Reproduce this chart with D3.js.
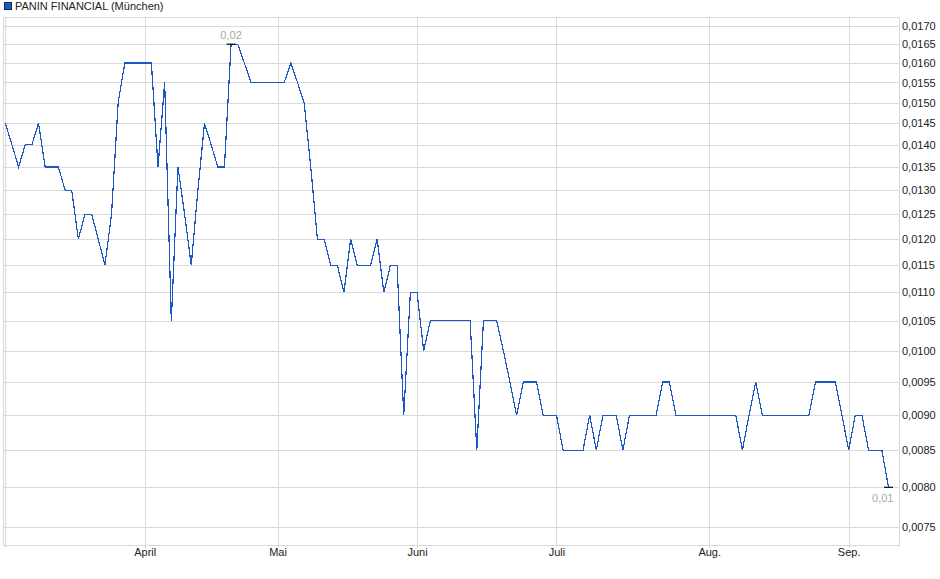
<!DOCTYPE html>
<html>
<head>
<meta charset="utf-8">
<script src="https://cdn.jsdelivr.net/npm/d3@7"></script>
<style>
    body { margin: 0; background: #fff; }
    text { font-family: "Liberation Sans", Arial, sans-serif; font-size: 11px; fill: #222; }
</style>
</head>
<body>
<div id="chart"></div>
<script>
var series_name = 'PANIN FINANCIAL (München)';

// Closing prices, one per trading day
var prices = [
    0.0145, 0.0140, 0.0135, 0.0140, 0.0140, 0.0145, 0.0135, 0.0135, 0.0135, 0.0130,
    0.0130, 0.0120, 0.0125, 0.0125, 0.0120, 0.0115, 0.0125, 0.0150, 0.0160, 0.0160,
    0.0160, 0.0160, 0.0160, 0.0135, 0.0155, 0.0105, 0.0135, 0.0125, 0.0115, 0.0130,
    0.0145, 0.0140, 0.0135, 0.0135, 0.0165, 0.0165, 0.0160, 0.0155, 0.0155, 0.0155,
    0.0155, 0.0155, 0.0155, 0.0160, 0.0155, 0.0150, 0.0135, 0.0120, 0.0120, 0.0115,
    0.0115, 0.0110, 0.0120, 0.0115, 0.0115, 0.0115, 0.0120, 0.0110, 0.0115, 0.0115,
    0.0090, 0.0110, 0.0110, 0.0100, 0.0105, 0.0105, 0.0105, 0.0105, 0.0105, 0.0105,
    0.0105, 0.0085, 0.0105, 0.0105, 0.0105, 0.0100, 0.0095, 0.0090, 0.0095, 0.0095,
    0.0095, 0.0090, 0.0090, 0.0090, 0.0085, 0.0085, 0.0085, 0.0085, 0.0090, 0.0085,
    0.0090, 0.0090, 0.0090, 0.0085, 0.0090, 0.0090, 0.0090, 0.0090, 0.0090, 0.0095,
    0.0095, 0.0090, 0.0090, 0.0090, 0.0090, 0.0090, 0.0090, 0.0090, 0.0090, 0.0090,
    0.0090, 0.0085, 0.0090, 0.0095, 0.0090, 0.0090, 0.0090, 0.0090, 0.0090, 0.0090,
    0.0090, 0.0090, 0.0095, 0.0095, 0.0095, 0.0095, 0.0090, 0.0085, 0.0090, 0.0090,
    0.0085, 0.0085, 0.0085, 0.0080
];

// Month ticks: label and trading day index
var month_labels = ['April', 'Mai', 'Juni', 'Juli', 'Aug.', 'Sep.'];
var month_index = [21, 41, 62, 83, 106, 127];

// Price axis ticks
var y_ticks = [0.0075, 0.0080, 0.0085, 0.0090, 0.0095, 0.0100, 0.0105, 0.0110, 0.0115, 0.0120,
    0.0125, 0.0130, 0.0135, 0.0140, 0.0145, 0.0150, 0.0155, 0.0160, 0.0165, 0.0170];
var y_domain = [0.00728, 0.01725];

var chart_width = 940;
var chart_height = 579;
var plot = { left: 3, right: 899, top: 17, bottom: 545 };
var line_color = '#1d57c3';
var grid_color = '#d9d9d9';

var svg = d3.select('#chart')
    .append('svg')
    .attr('width', chart_width)
    .attr('height', chart_height);

var x_scale = d3.scaleLinear()
    .domain([0, prices.length - 1])
    .range([5.3, 888.5]);

var y_scale = d3.scaleLog()
    .domain(y_domain)
    .range([plot.bottom, plot.top]);

var comma = function (fmt) {
    return function (v) { return d3.format(fmt)(v).replace('.', ','); };
};

// Horizontal grid
svg.append('g')
    .selectAll('line')
    .data(y_ticks)
    .enter()
    .append('line')
    .attr('x1', plot.left)
    .attr('x2', plot.right)
    .attr('y1', function (d) { return Math.round(y_scale(d)) + 0.5; })
    .attr('y2', function (d) { return Math.round(y_scale(d)) + 0.5; })
    .attr('stroke', grid_color);

// Vertical grid at month starts
svg.append('g')
    .selectAll('line')
    .data(month_index)
    .enter()
    .append('line')
    .attr('x1', function (d) { return Math.round(x_scale(d)) + 0.5; })
    .attr('x2', function (d) { return Math.round(x_scale(d)) + 0.5; })
    .attr('y1', plot.top)
    .attr('y2', plot.bottom + 3)
    .attr('stroke', grid_color);

// Frame
svg.append('rect')
    .attr('x', plot.left + 0.5)
    .attr('y', plot.top + 0.5)
    .attr('width', plot.right - plot.left)
    .attr('height', plot.bottom - plot.top)
    .attr('fill', 'none')
    .attr('stroke', grid_color);

svg.append('line')
    .attr('x1', 5.5).attr('x2', 5.5)
    .attr('y1', plot.top).attr('y2', plot.bottom + 3)
    .attr('stroke', grid_color);

// Right price axis
var y_axis = d3.axisRight(y_scale)
    .tickValues(y_ticks)
    .tickFormat(comma('.4f'))
    .tickSize(0)
    .tickPadding(3);

svg.append('g')
    .attr('transform', 'translate(' + plot.right + ',0)')
    .call(y_axis)
    .call(function (g) { g.select('.domain').remove(); })
    .selectAll('text')
    .style('font-family', '"Liberation Sans", Arial, sans-serif')
    .style('font-size', '11px')
    .attr('fill', '#222');

// Bottom month axis
var x_axis = d3.axisBottom(x_scale)
    .tickValues(month_index)
    .tickFormat(function (d, i) { return month_labels[i]; })
    .tickSize(0)
    .tickPadding(3);

svg.append('g')
    .attr('transform', 'translate(0,' + plot.bottom + ')')
    .call(x_axis)
    .call(function (g) { g.select('.domain').remove(); })
    .selectAll('text')
    .style('font-family', '"Liberation Sans", Arial, sans-serif')
    .style('font-size', '11px')
    .attr('fill', '#222');

// Price line
var line = d3.line()
    .x(function (d, i) { return x_scale(i); })
    .y(function (d) { return y_scale(d); });

svg.append('path')
    .datum(prices)
    .attr('d', line)
    .attr('fill', 'none')
    .attr('stroke', line_color)
    .attr('stroke-width', 1.2)
    .attr('shape-rendering', 'crispEdges');

// High / low markers
var hi = d3.maxIndex(prices);
var lo = prices.length - 1 - d3.minIndex(prices.slice().reverse());
var fmt2 = comma('.2f');

[hi, lo].forEach(function (i) {
    svg.append('line')
        .attr('x1', x_scale(i) - 4.5)
        .attr('x2', x_scale(i) + 4.5)
        .attr('y1', y_scale(prices[i]))
        .attr('y2', y_scale(prices[i]))
        .attr('stroke', '#000')
        .attr('stroke-width', 1.2);
});

svg.append('text')
    .attr('x', x_scale(hi))
    .attr('y', y_scale(prices[hi]) - 5)
    .attr('text-anchor', 'middle')
    .style('fill', '#a8a8a8')
    .text(fmt2(prices[hi]));

svg.append('text')
    .attr('x', x_scale(lo) + 5)
    .attr('y', y_scale(prices[lo]) + 15)
    .attr('text-anchor', 'end')
    .style('fill', '#9fa9ba')
    .text(fmt2(prices[lo]));

// Legend
svg.append('rect')
    .attr('x', 4.5)
    .attr('y', 2.5)
    .attr('width', 7)
    .attr('height', 7)
    .attr('fill', '#1d57c3')
    .attr('stroke', '#0b2a66');

svg.append('text')
    .attr('x', 15)
    .attr('y', 10)
    .text(series_name);
</script>
</body>
</html>
